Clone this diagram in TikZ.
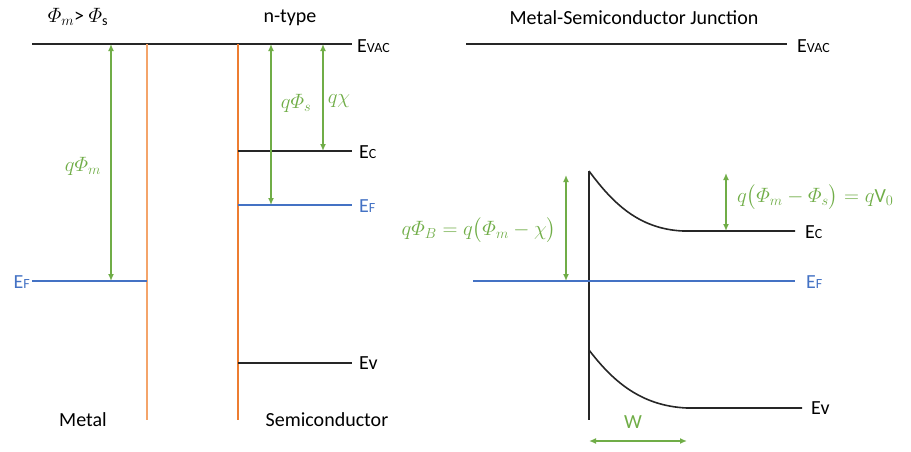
\documentclass[tikz,border=0pt]{standalone}
\usepackage{amsmath}
\usepackage{fontspec}
\setmainfont{Carlito}
\usetikzlibrary{arrows.meta}
\definecolor{dimgreen}{HTML}{70AD47}
\definecolor{efblue}{HTML}{4472C4}
\definecolor{ifaceA}{HTML}{F4A46A}
\definecolor{ifaceB}{HTML}{ED7D31}
\newcommand{\smallcap}[1]{{\fontsize{14}{14}\selectfont #1}}
\begin{document}
\begin{tikzpicture}[x=1pt,y=-1pt,
  lvl/.style={line width=1.6pt,black!85},
  fermi/.style={line width=1.5pt,efblue},
  iface/.style={line width=1.7pt},
  dimarrow/.style={dimgreen,line width=1.4pt,{Latex[length=7pt,width=6pt]}-{Latex[length=7pt,width=6pt]}},
  lbl/.style={font=\fontsize{20}{24}\selectfont,inner sep=0pt},
  glbl/.style={lbl,text=dimgreen},
  blbl/.style={lbl,text=efblue}]
\useasboundingbox (0,0) rectangle (911,451);

% ---------- Left panel ----------
\node[lbl] (cond) at (78,17) {$\varPhi_m$> $\varPhi_{\mathrm{s}}$};
\node[lbl] (ntype) at (290,18) {n-type};

\coordinate (vacL1) at (32,44);
\coordinate (vacL2) at (352,44);
\draw[lvl] (vacL1) -- (vacL2);
\node[lbl,anchor=west] (evacL) at (357,46) {E\smallcap{VAC}};

\coordinate (mTop) at (147,44);
\coordinate (mBot) at (147,420);
\draw[iface,ifaceA] (mTop) -- (mBot);
\coordinate (sTop) at (238,44);
\coordinate (sBot) at (238,420);
\draw[iface,ifaceB] (sTop) -- (sBot);

% metal Fermi level
\coordinate (efM1) at (32,281);
\coordinate (efM2) at (147,281);
\draw[fermi] (efM1) -- (efM2);
\node[blbl,anchor=east] (efMl) at (30,282) {E\smallcap{F}};

% semiconductor levels
\coordinate (ecS1) at (238,151);
\coordinate (ecS2) at (352,151);
\draw[lvl] (ecS1) -- (ecS2);
\node[lbl,anchor=west] (ecSl) at (359,152) {E\smallcap{C}};

\coordinate (efS1) at (238,205);
\coordinate (efS2) at (352,205);
\draw[fermi] (efS1) -- (efS2);
\node[blbl,anchor=west] (efSl) at (359,206) {E\smallcap{F}};

\coordinate (evS1) at (238,363);
\coordinate (evS2) at (352,363);
\draw[lvl] (evS1) -- (evS2);
\node[lbl,anchor=west] (evSl) at (359,363) {Ev};

% dimension arrows (left)
\coordinate (phmT) at (111,44);
\coordinate (phmB) at (111,281);
\draw[dimarrow] (phmT) -- (phmB);
\node[glbl] (phml) at (83,166) {$q\varPhi_m$};

\coordinate (phsT) at (271,44);
\coordinate (phsB) at (271,205);
\draw[dimarrow] (phsT) -- (phsB);
\node[glbl] (phsl) at (296,103) {$q\varPhi_s$};

\coordinate (chiT) at (323,44);
\coordinate (chiB) at (323,151);
\draw[dimarrow] (chiT) -- (chiB);
\node[glbl] (chil) at (339,101) {$q\chi$};

\node[lbl] (metal) at (83,420) {Metal};
\node[lbl] (semi) at (327,420) {Semiconductor};

% ---------- Right panel ----------
\node[lbl] (junc) at (634,18) {Metal-Semiconductor Junction};
\coordinate (vacR1) at (466,44);
\coordinate (vacR2) at (787,44);
\draw[lvl] (vacR1) -- (vacR2);
\node[lbl,anchor=west] (evacR) at (797,46) {E\smallcap{VAC}};

\coordinate (jTop) at (589,171);
\coordinate (jBot) at (589,420);
\draw[lvl] (jTop) -- (jBot);

\coordinate (ecR1) at (683,231);
\coordinate (ecR2) at (795,231);
\draw[lvl] (jTop) .. controls (612,202) and (638,229) .. (ecR1) -- (ecR2);
\node[lbl,anchor=west] (ecRl) at (805,232) {E\smallcap{C}};

\coordinate (efR1) at (473,281);
\coordinate (efR2) at (795,281);
\draw[fermi] (efR1) -- (efR2);
\node[blbl,anchor=west] (efRl) at (806,282) {E\smallcap{F}};

\coordinate (evR0) at (589,350);
\coordinate (evR1) at (687,408);
\coordinate (evR2) at (802,408);
\draw[lvl] (evR0) .. controls (612,380) and (640,406) .. (evR1) -- (evR2);
\node[lbl,anchor=west] (evRl) at (811,408) {Ev};

\coordinate (phbT) at (566,175);
\coordinate (phbB) at (566,281);
\draw[dimarrow] (phbT) -- (phbB);
\node[glbl] (phbl) at (479,230) {$q\varPhi_B = q\bigl(\varPhi_m-\chi\bigr)$};

\coordinate (v0T) at (726,173);
\coordinate (v0B) at (726,231);
\draw[dimarrow] (v0T) -- (v0B);
\node[glbl,anchor=west] (v0l) at (737,197) {$q\bigl(\varPhi_m-\varPhi_s\bigr) = q\mathrm{V}_0$};

\coordinate (wL) at (589,441);
\coordinate (wR) at (687,441);
\draw[dimarrow] (wL) -- (wR);
\node[glbl] (wl) at (633,422) {W};
\end{tikzpicture}
\end{document}
